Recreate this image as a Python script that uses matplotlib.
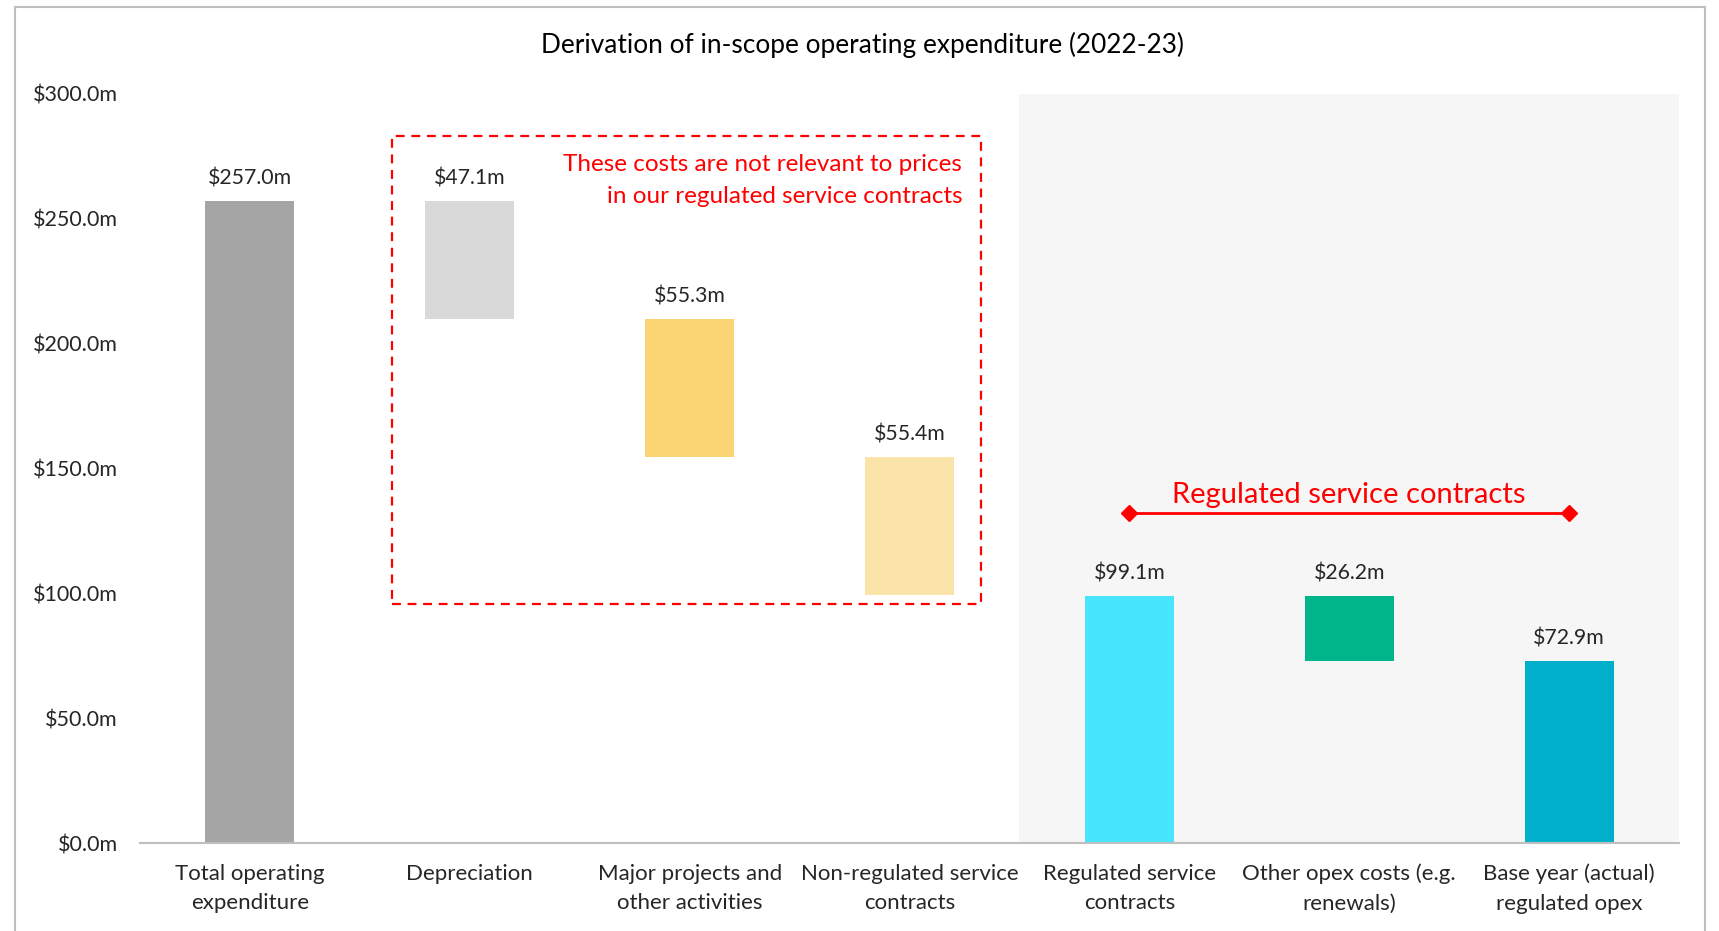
import numpy as np
import matplotlib
matplotlib.use('Agg')
import matplotlib.pyplot as plt
from matplotlib.patches import Rectangle

plt.rcParams['font.family'] = ['Lato', 'DejaVu Sans']

# data
categories = ['Total operating\nexpenditure', 'Depreciation', 'Major projects and\nother activities',
              'Non-regulated service\ncontracts', 'Regulated service\ncontracts',
              'Other opex costs (e.g.\nrenewals)', 'Base year (actual)\nregulated opex']
values = [257.0, 47.1, 55.3, 55.4, 99.1, 26.2, 72.9]
steps = ['total', 'down', 'down', 'down', 'total', 'down', 'total']
colors = ['#A5A5A5', '#D9D9D9', '#FBD574', '#FBE4A9', '#48E6FE', '#00B589', '#00B0CA']
yticks = [0, 50, 100, 150, 200, 250, 300]

title = 'Derivation of in-scope operating expenditure (2022-23)'
note = 'These costs are not relevant to prices\nin our regulated service contracts'
bracket = 'Regulated service contracts'

# waterfall bottoms
bottoms = []
running = 0.0
for v, s in zip(values, steps):
    if s == 'total':
        running = v
        bottoms.append(0.0)
    else:
        running -= v
        bottoms.append(running)
bottoms = np.array(bottoms)
x = np.arange(len(categories))

fig = plt.figure(figsize=(17.19, 9.31), dpi=100)
ax = fig.add_axes([140 / 1719, 1 - 843 / 931, 1539 / 1719, 749 / 931])

ax.axvspan(3.5, 6.5, color='#F6F6F6', zorder=0, lw=0)
ax.bar(x, values, bottom=bottoms, width=0.405, color=colors, zorder=2)

for xi, v, b in zip(x, values, bottoms):
    ax.text(xi, b + v + 5.0, f'${v:.1f}m', ha='center', va='bottom', fontsize=15.3, color='#262626')

ax.set_xlim(-0.5, 6.5)
ax.set_ylim(0, 300)
ax.set_xticks(x)
ax.set_xticklabels(categories, fontsize=16, color='#262626', linespacing=1.58)
ax.set_yticks(yticks)
ax.set_yticklabels([f'${t:.1f}m' for t in yticks], fontsize=15.5, color='#262626')
ax.tick_params(axis='both', length=0)
ax.tick_params(axis='x', pad=15)
ax.tick_params(axis='y', pad=16)
for side in ['top', 'right', 'left']:
    ax.spines[side].set_visible(False)
ax.spines['bottom'].set_color('#BFBFBF')
ax.spines['bottom'].set_linewidth(1.5)

# dashed box around non-relevant costs
ax.add_patch(Rectangle((0.645, 95.8), 3.327 - 0.645, 283.0 - 95.8, fill=False,
                       edgecolor='#FF0000', linestyle=(0, (4, 3)), linewidth=1.6, zorder=3))
ax.text(3.24, 275.8, note, ha='right', va='top', fontsize=17.5, color='#FF0000', linespacing=1.65)

# bracket over regulated contracts
ax.plot([4, 6], [132.3, 132.3], color='#FF0000', lw=2, marker='D', markersize=8, zorder=3)
ax.text(5, 134.0, bracket, ha='center', va='bottom', fontsize=21, color='#FF0000')

fig.text(862 / 1719, 1 - 45 / 931, title, ha='center', va='center', fontsize=18.9, color='black')

fig.patches.append(Rectangle((15 / 1719, -0.1), 1690 / 1719, 1 - 7 / 931 + 0.1, fill=False,
                             edgecolor='#BFBFBF', linewidth=1.5, transform=fig.transFigure, figure=fig))

fig.savefig('out.png', dpi=100)
